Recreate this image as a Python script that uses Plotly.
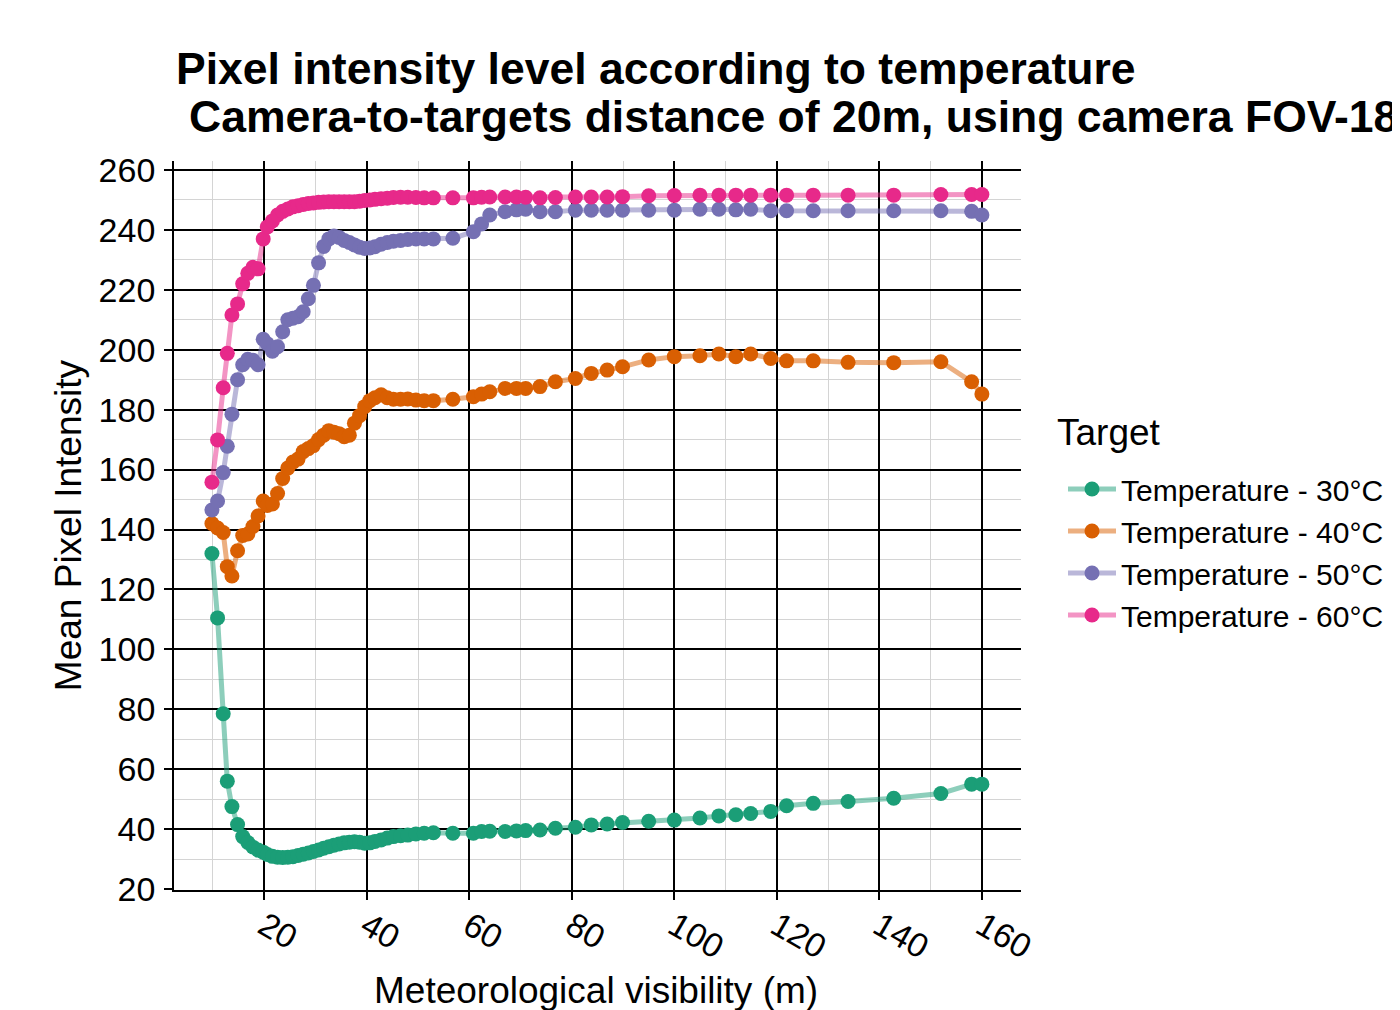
import plotly.graph_objects as go

visibility = [9.8, 10.9, 12.0, 12.8, 13.7, 14.8, 15.8, 16.8, 17.8, 18.8, 19.8, 20.6, 21.6, 22.6, 23.6,
              24.6, 25.6, 26.6, 27.6, 28.6, 29.6, 30.6, 31.6, 32.6, 33.6, 34.6, 35.6, 36.6, 37.6, 38.6,
              39.6, 40.6, 41.6, 42.8, 44.0, 45.2, 46.6, 48.0, 49.6, 51.2, 53.0, 56.8, 60.8, 62.4, 64.0,
              67.0, 69.2, 71.0, 73.8, 76.8, 80.7, 83.8, 86.9, 89.9, 95.0, 100.0, 105.0, 108.7, 112.0,
              114.9, 118.8, 121.9, 127.1, 133.9, 142.8, 152.0, 158.0, 160.0]

temp30 = [132, 110.5, 78.5, 56, 47.5, 41.5, 37.5, 35.5, 34, 33, 32.3, 31.5, 30.9, 30.6, 30.5,
          30.6, 30.8, 31.2, 31.6, 32.0, 32.5, 33.0, 33.6, 34.1, 34.6, 35.0, 35.4, 35.6, 35.8, 35.6,
          35.3, 35.4, 35.9, 36.4, 37.0, 37.5, 37.8, 38.0, 38.4, 38.6, 38.8, 38.6, 38.6, 39.2, 39.3,
          39.2, 39.4, 39.5, 39.7, 40.3, 40.6, 41.4, 41.7, 42.2, 42.6, 43.0, 43.7, 44.4, 44.8,
          45.2, 45.9, 47.8, 48.6, 49.2, 50.3, 51.9, 55.0, 55.0]

temp40 = [142, 140.5, 139, 127.6, 124.5, 132.9, 138, 138.5, 141, 144.5, 149.5, 148, 148.5, 152, 157,
          160.5, 162.5, 163.5, 166, 167, 168, 170, 171.5, 173, 172.5, 172, 171, 171.5, 175.5, 178,
          181, 183, 184, 185, 184, 183.5, 183.5, 183.6, 183.2, 183, 183, 183.5, 184.3, 185.2, 186,
          187.1, 187.1, 187.1, 187.7, 189.3, 190.4, 192.1, 193.2, 194.3, 196.6, 197.7, 198.0, 198.6, 197.7,
          198.6, 197.1, 196.3, 196.3, 195.8, 195.7, 196.0, 189.3, 185.2]

temp50 = [146.5, 149.5, 159, 167.8, 178.5, 190, 195, 196.8, 196.5, 195, 203.5, 202, 199.5, 201, 206,
          210, 210.5, 211, 212.7, 217, 221.5, 229, 234.5, 237, 238, 237.5, 236.5, 235.8, 235, 234.2,
          233.8, 234, 234.4, 235.2, 235.8, 236.2, 236.5, 236.8, 237, 237, 237, 237.2, 239.4, 242, 245,
          246.1, 246.7, 246.9, 246.1, 246.1, 246.6, 246.6, 246.6, 246.6, 246.6, 246.6, 246.9, 246.9, 246.7,
          246.9, 246.4, 246.4, 246.4, 246.4, 246.4, 246.4, 246.2, 245.0]

temp60 = [155.8, 169.9, 187.3, 198.8, 211.6, 215.3, 222, 225.5, 227.5, 227, 237, 241, 243, 245, 246.2,
          247, 247.7, 248.1, 248.5, 248.8, 249, 249.2, 249.3, 249.4, 249.4, 249.4, 249.4, 249.4, 249.4, 249.6,
          249.8, 250, 250.2, 250.4, 250.6, 250.8, 250.9, 250.9, 250.8, 250.7, 250.7, 250.7, 250.7, 250.9, 251.0,
          251.0, 251.0, 250.9, 250.7, 250.8, 251.0, 251.0, 251.0, 251.1, 251.4, 251.5, 251.6, 251.6, 251.6,
          251.6, 251.6, 251.6, 251.6, 251.6, 251.6, 251.8, 251.8, 251.8]

series_names = ["Temperature - 30°C", "Temperature - 40°C", "Temperature - 50°C", "Temperature - 60°C"]
series_values = [temp30, temp40, temp50, temp60]
colors = ["#1B9E77", "#D95F02", "#7570B3", "#E7298A"]
line_colors = ["rgba(27,158,119,0.5)", "rgba(217,95,2,0.5)", "rgba(117,112,179,0.5)", "rgba(231,41,138,0.5)"]

x_ticks = [20, 40, 60, 80, 100, 120, 140, 160]
y_ticks = [20, 40, 60, 80, 100, 120, 140, 160, 180, 200, 220, 240, 260]

FONT = "Liberation Sans, Arial, sans-serif"

# page offset (body margin) of 8px: plot area in screenshot spans x 174..1019, y 161..890
OFF = 8
PL, PR, PT, PB = 174 - OFF, 1022 - OFF, 161 - OFF, 890 - OFF
W, H = 1400 - OFF, 1010 - OFF
PW, PH = PR - PL, PB - PT


def px_to_paper_x(px):
    return (px - OFF - PL) / PW


def px_to_paper_y(py):
    return (PB - (py - OFF)) / PH


fig = go.Figure()
for name, vals, lc in zip(series_names, series_values, line_colors):
    fig.add_trace(go.Scatter(x=visibility, y=vals, mode="lines", line=dict(color=lc, width=5),
                             showlegend=False, hoverinfo="skip"))
for name, vals, c in zip(series_names, series_values, colors):
    fig.add_trace(go.Scatter(x=visibility, y=vals, mode="markers", marker=dict(color=c, size=15),
                             showlegend=False, name=name))
for name, c, lc in zip(series_names, colors, line_colors):
    fig.add_trace(go.Scatter(x=[None], y=[None], mode="lines+markers", name=name,
                             line=dict(color=lc, width=5), marker=dict(color=c, size=15)))

axis_common = dict(
    showline=True, linecolor="black", linewidth=1.8, mirror=False,
    showgrid=True, gridcolor="black", gridwidth=1.5,
    ticks="outside", ticklen=8, tickwidth=1.5, tickcolor="black",
    tickfont=dict(family=FONT, size=34, color="black"),
    zeroline=False, automargin=False,
)

fig.update_xaxes(range=[2.4, 167.63], tickvals=x_ticks, ticktext=[str(v) for v in x_ticks],
                 tickangle=30, ticklabelstandoff=-7,
                 minor=dict(dtick=10, tick0=0, showgrid=True, gridcolor="#d4d4d4", gridwidth=1.1, ticks=""),
                 **axis_common)
fig.update_yaxes(range=[19.67, 263.0], tickvals=y_ticks, ticktext=[str(v) for v in y_ticks],
                 minor=dict(dtick=10, tick0=0, showgrid=True, gridcolor="#d4d4d4", gridwidth=1.1, ticks=""),
                 ticklabelstandoff=2,
                 **axis_common)

annotations = [
    dict(text="<b>Pixel intensity level according to temperature</b>", x=174, y=69, size=44.5,
         xanchor="left", angle=0),
    dict(text="<b>Camera-to-targets distance of 20m, using camera FOV-18</b>", x=187, y=117, size=44.5,
         xanchor="left", angle=0),
    dict(text="Target", x=1056, y=432, size=37, xanchor="left", angle=0),
    dict(text="Meteorological visibility (m)", x=596, y=990, size=37, xanchor="center", angle=0),
    dict(text="Mean Pixel Intensity", x=68, y=525, size=37, xanchor="center", angle=-90),
]
for a in annotations:
    fig.add_annotation(text=a["text"], xref="paper", yref="paper",
                       x=px_to_paper_x(a["x"]), y=px_to_paper_y(a["y"]),
                       xanchor=a["xanchor"], yanchor="middle", textangle=a["angle"],
                       showarrow=False, font=dict(family=FONT, size=a["size"], color="black"))

fig.update_layout(
    width=W, height=H,
    margin=dict(l=PL, r=W - PR, t=PT, b=H - PB),
    paper_bgcolor="white", plot_bgcolor="white",
    font=dict(family=FONT, color="black"),
    legend=dict(font=dict(family=FONT, size=30, color="black"),
                x=px_to_paper_x(1063), xanchor="left", y=px_to_paper_y(463), yanchor="top",
                bgcolor="rgba(0,0,0,0)", itemwidth=48, tracegroupgap=0),
)

fig.write_html("out.html")
